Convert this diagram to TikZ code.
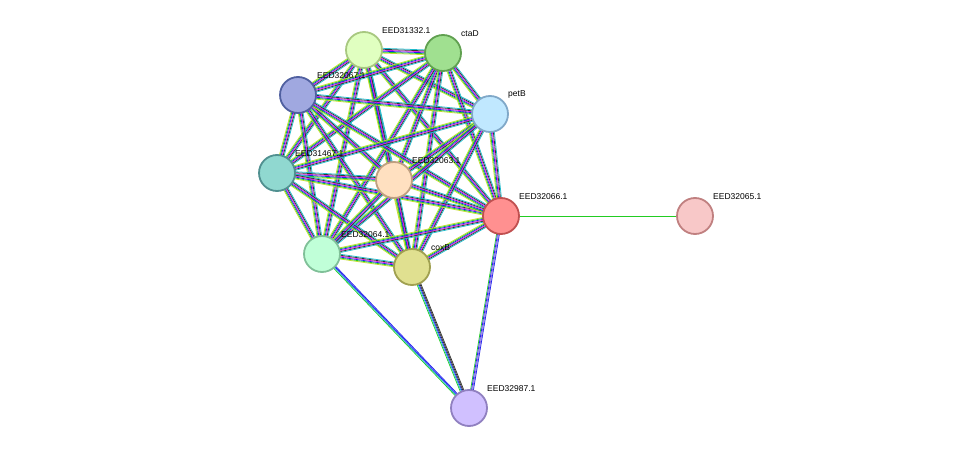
\documentclass[tikz,border=0pt]{standalone}
\usepackage{fontspec}
\setmainfont{Liberation Sans}
\usetikzlibrary{calc,backgrounds}
\definecolor{sgreen}{HTML}{22CC22}
\definecolor{sblue}{HTML}{2222EE}
\definecolor{smag}{HTML}{DD22DD}
\definecolor{sblack}{HTML}{333333}
\definecolor{scyan}{HTML}{22BBCC}
\definecolor{syg}{HTML}{C8DC30}
\definecolor{sred}{HTML}{EE2222}
\definecolor{slil}{HTML}{8866DD}
\newcommand\bund[3]{%
 \foreach \c [count=\i] in {#3} {%
  \pgfmathsetmacro\o{(\i-3.5)*0.95}%
  \draw[\c, line width=0.75pt] ($(#1.center)!\o pt!90:(#2.center)$) -- ($(#2.center)!\o pt!-90:(#1.center)$);
 }}
\newcommand\bundn[4]{%
 \foreach \c [count=\i] in {#3} {%
  \pgfmathsetmacro\o{(\i-#4)*0.95}%
  \draw[\c, line width=0.75pt] ($(#1.center)!\o pt!90:(#2.center)$) -- ($(#2.center)!\o pt!-90:(#1.center)$);
 }}
\tikzset{prot/.style={circle, minimum size=36pt, inner sep=0pt, line width=1.8pt},
 lab/.style={font=\fontsize{8.5}{10}\selectfont, anchor=south west, inner sep=1pt}}
\begin{document}
\begin{tikzpicture}[x=1pt,y=-1pt]
\useasboundingbox (0,0) rectangle (976,454);
\node[prot, fill={rgb,255:red,224;green,255;blue,192}, draw={rgb,255:red,168;green,200;blue,128}] (n1) at (364,50) {};
\node[prot, fill={rgb,255:red,160;green,224;blue,144}, draw={rgb,255:red,96;green,160;blue,80}] (n2) at (443,53) {};
\node[prot, fill={rgb,255:red,160;green,168;blue,224}, draw={rgb,255:red,80;green,96;blue,160}] (n3) at (298,95) {};
\node[prot, fill={rgb,255:red,192;green,232;blue,255}, draw={rgb,255:red,128;green,168;blue,200}] (n4) at (490,114) {};
\node[prot, fill={rgb,255:red,144;green,216;blue,208}, draw={rgb,255:red,80;green,144;blue,144}] (n5) at (277,173) {};
\node[prot, fill={rgb,255:red,255;green,224;blue,192}, draw={rgb,255:red,192;green,160;blue,128}] (n6) at (394,180) {};
\node[prot, fill={rgb,255:red,255;green,144;blue,144}, draw={rgb,255:red,192;green,80;blue,80}] (n7) at (501,216) {};
\node[prot, fill={rgb,255:red,248;green,200;blue,200}, draw={rgb,255:red,192;green,128;blue,128}] (n8) at (695,216) {};
\node[prot, fill={rgb,255:red,192;green,255;blue,216}, draw={rgb,255:red,128;green,192;blue,152}] (n9) at (322,254) {};
\node[prot, fill={rgb,255:red,224;green,224;blue,144}, draw={rgb,255:red,160;green,160;blue,80}] (n10) at (412,267) {};
\node[prot, fill={rgb,255:red,208;green,192;blue,255}, draw={rgb,255:red,144;green,128;blue,192}] (n11) at (469,408) {};
\node[lab] (l1) at (381,35) {EED31332.1};
\node[lab] (l2) at (460,38) {ctaD};
\node[lab] (l3) at (316,80) {EED32067.1};
\node[lab] (l4) at (507,99) {petB};
\node[lab] (l5) at (294,158) {EED31467.1};
\node[lab] (l6) at (411,165) {EED32063.1};
\node[lab] (l7) at (518,201) {EED32066.1};
\node[lab] (l8) at (712,201) {EED32065.1};
\node[lab] (l9) at (340,239) {EED32064.1};
\node[lab] (l10) at (430,252) {coxB};
\node[lab] (l11) at (486,393) {EED32987.1};
\begin{scope}[on background layer]
\foreach \a/\b in {n1/n2,n1/n3,n1/n4,n1/n5,n1/n6,n1/n7,n1/n9,n1/n10,
 n2/n3,n2/n4,n2/n5,n2/n6,n2/n7,n2/n9,n2/n10,
 n3/n4,n3/n5,n3/n6,n3/n7,n3/n9,n3/n10,
 n4/n5,n4/n6,n4/n7,n4/n9,n4/n10,
 n5/n6,n5/n7,n5/n9,n5/n10,
 n6/n7,n6/n9,n6/n10,
 n7/n9,n7/n10,n9/n10}{\bund{\a}{\b}{syg,sgreen,sblue,smag,sblack,scyan}}
\bundn{n7}{n8}{sgreen}{1}
\bundn{n9}{n11}{sgreen,scyan,sblue,sblue}{2.5}
\bundn{n10}{n11}{sgreen,scyan,sblue,sblack,sblack}{3}
\bundn{n7}{n11}{sgreen,sblue,slil,sblue}{2.5}
\end{scope}
\end{tikzpicture}
\end{document}
